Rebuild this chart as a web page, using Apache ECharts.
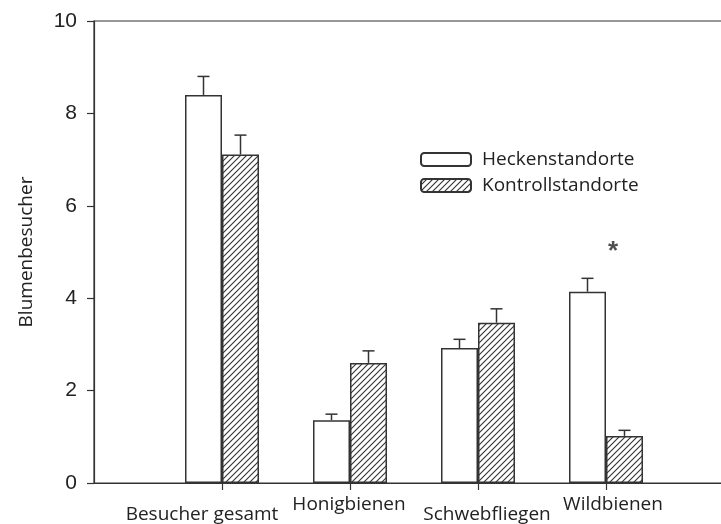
<!DOCTYPE html>
<html>
<head>
<meta charset="utf-8">
<script src="https://cdn.jsdelivr.net/npm/echarts@6/dist/echarts.min.js"></script>
<style>
	html, body { margin: 0; padding: 0; background: #fff; }
	#chart { width: 721px; height: 524px; }
</style>
</head>
<body>
<div id="chart"></div>
<script>
// Kategorien (leere Ränder links und rechts für die Achse 0..5)
var categories = ['', 'Besucher gesamt', 'Honigbienen', 'Schwebfliegen', 'Wildbienen', ''];
var seriesNames = ['Heckenstandorte', 'Kontrollstandorte'];
var heckenValues = [null, 8.40, 1.36, 2.92, 4.14, null];
var heckenErrTop = [null, 8.80, 1.49, 3.11, 4.43, null];
var kontrollValues = [null, 7.11, 2.60, 3.47, 1.02, null];
var kontrollErrTop = [null, 7.53, 2.86, 3.77, 1.14, null];
var yTicks = [0, 2, 4, 6, 8, 10];
var signifMark = [['Wildbienen', 5.0]];

var textFont = '"Open Sans", "Noto Sans", sans-serif';
var numFont = '"Liberation Sans", Arial, sans-serif';
var ink = '#222';
var axisColor = '#333';

// Schraffur ///
function makeHatch() {
	var c = document.createElement('canvas');
	c.width = 6; c.height = 6;
	var ctx = c.getContext('2d');
	ctx.fillStyle = '#fff';
	ctx.fillRect(0, 0, 6, 6);
	ctx.strokeStyle = '#333';
	ctx.lineWidth = 1.1;
	ctx.beginPath();
	ctx.moveTo(-1, 7); ctx.lineTo(7, -1);
	ctx.moveTo(-4, 4); ctx.lineTo(4, -4);
	ctx.moveTo(2, 10); ctx.lineTo(10, 2);
	ctx.stroke();
	return c;
}
var hatch = { image: makeHatch(), repeat: 'repeat' };

var barWidth = 37;

function errorSeries(values, tops, offset) {
	var data = [];
	for (var i = 0; i < values.length; i++) {
		if (values[i] != null) data.push([i, values[i], tops[i]]);
	}
	return {
		type: 'custom',
		silent: true,
		z: 1,
		data: data,
		renderItem: function(params, api) {
			var base = api.coord([api.value(0), api.value(1)]);
			var top = api.coord([api.value(0), api.value(2)]);
			var x = base[0] + offset;
			var style = { stroke: axisColor, lineWidth: 1.5 };
			return {
				type: 'group',
				children: [
					{ type: 'line', shape: { x1: x, y1: base[1], x2: x, y2: top[1] }, style: style },
					{ type: 'line', shape: { x1: x - 6, y1: top[1], x2: x + 6, y2: top[1] }, style: style }
				]
			};
		}
	};
}

var chart = echarts.init(document.getElementById('chart'));

var option = {
	backgroundColor: '#fff',
	animation: false,
	grid: {
		left: 94,
		width: 640,
		top: 21,
		bottom: 41,
		outerBoundsMode: 'none',
		containLabel: false,
		show: true,
		borderColor: axisColor,
		borderWidth: 1.2
	},
	legend: {
		orient: 'vertical',
		left: 415,
		top: 145,
		itemWidth: 50,
		itemHeight: 13,
		itemGap: 7,
		data: seriesNames,
		textStyle: { fontFamily: textFont, fontSize: 19, color: ink, padding: [0, 0, 0, 6] }
	},
	xAxis: {
		type: 'category',
		data: categories,
		boundaryGap: false,
		axisLine: { lineStyle: { color: axisColor, width: 1.2 } },
		axisTick: {
			length: 7,
			interval: function(i) { return i > 0 && i < categories.length - 1; },
			lineStyle: { color: axisColor, width: 1.2 }
		},
		axisLabel: {
			interval: 0,
			margin: 12,
			fontFamily: textFont,
			fontSize: 19,
			color: ink,
			formatter: function(v, i) {
				if (i === 1) return '{a|' + v + '}';
				if (i === 2) return '{b|' + v + '}';
				if (i === 3) return '{c|' + v + '}';
				if (i === 4) return '{d|' + v + '}';
				return '';
			},
			rich: {
				a: { fontFamily: textFont, fontSize: 19, color: ink, padding: [10, 40, 0, 0] },
				b: { fontFamily: textFont, fontSize: 19, color: ink, padding: [0, 2, 0, 0] },
				c: { fontFamily: textFont, fontSize: 19, color: ink, padding: [10, 0, 0, 18] },
				d: { fontFamily: textFont, fontSize: 19, color: ink, padding: [0, 0, 0, 14] }
			}
		},
		splitLine: { show: false }
	},
	yAxis: {
		type: 'value',
		min: yTicks[0],
		max: yTicks[yTicks.length - 1],
		interval: 2,
		name: 'Blumenbesucher',
		nameLocation: 'middle',
		nameGap: 58,
		nameTextStyle: { fontFamily: textFont, fontSize: 19, color: ink },
		axisLine: { show: true, lineStyle: { color: axisColor, width: 1.2 } },
		axisTick: { show: true, length: 7, lineStyle: { color: axisColor, width: 1.2 } },
		axisLabel: { margin: 17, fontFamily: numFont, fontSize: 21, color: ink },
		splitLine: { show: false }
	},
	series: [
		{
			name: seriesNames[0],
			type: 'bar',
			data: heckenValues,
			barWidth: barWidth,
			barGap: '0%',
			z: 2,
			itemStyle: { color: '#fff', borderColor: axisColor, borderWidth: 1.5 }
		},
		{
			name: seriesNames[1],
			type: 'bar',
			data: kontrollValues,
			barWidth: barWidth,
			barGap: '0%',
			z: 2,
			itemStyle: { color: hatch, borderColor: axisColor, borderWidth: 1.5 }
		},
		errorSeries(heckenValues, heckenErrTop, -barWidth / 2),
		errorSeries(kontrollValues, kontrollErrTop, barWidth / 2),
		{
			type: 'scatter',
			data: signifMark,
			symbolSize: 0,
			silent: true,
			label: {
				show: true,
				position: 'inside',
				offset: [7, 0],
				formatter: '*',
				fontFamily: numFont,
				fontSize: 26,
				fontWeight: 'bold',
				color: ink
			}
		}
	]
};

chart.setOption(option);
</script>
</body>
</html>
